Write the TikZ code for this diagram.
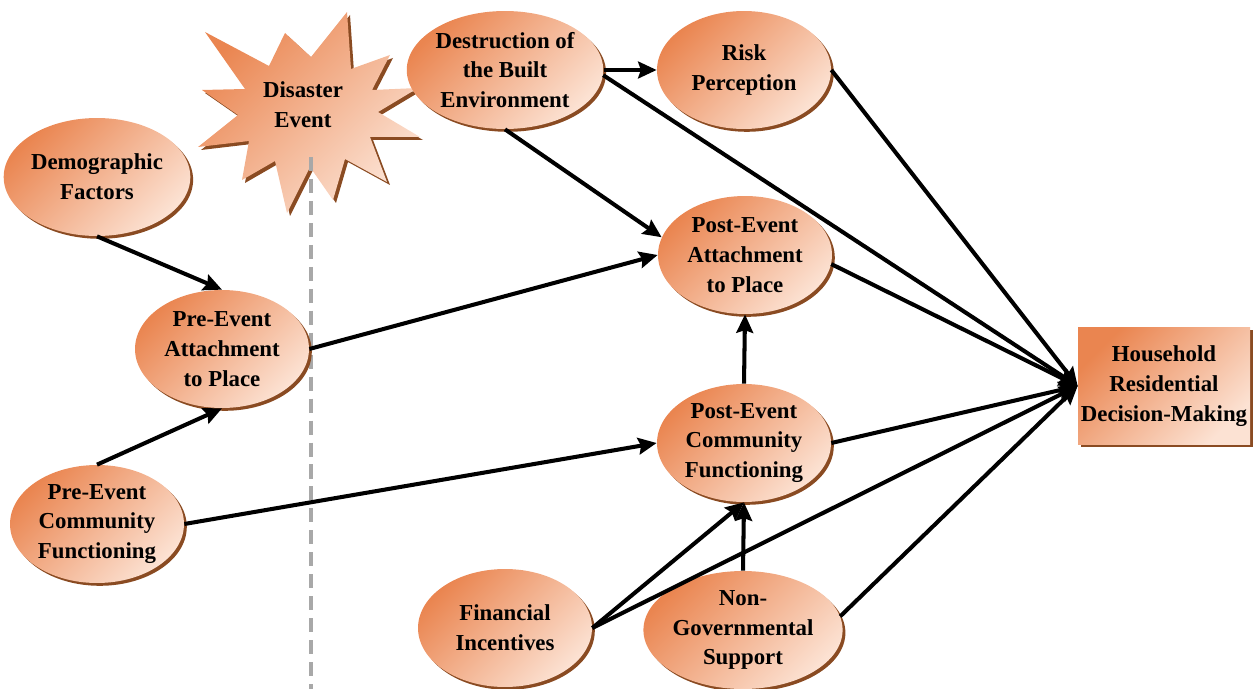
\documentclass[tikz,border=0pt]{standalone}
\usepackage{fontspec}
\setmainfont{Liberation Serif}
\usetikzlibrary{shapes.geometric,shadows,arrows.meta}
\definecolor{oA}{HTML}{EA8550}
\definecolor{oB}{HTML}{FCE2D3}
\definecolor{shc}{HTML}{8A4B22}
\definecolor{dashc}{HTML}{A8A8A8}
\begin{document}
\begin{tikzpicture}[x=0.02cm,y=-0.02cm,
  lbl/.style={align=center, font=\fontsize{13}{17}\selectfont\bfseries},
  orangeshade/.style={top color=oA, bottom color=oB, shading angle=45},
  shadowed/.style={drop shadow={shadow xshift=1.6pt, shadow yshift=-1.6pt, fill=shc, opacity=1}},
  blob/.style={ellipse, minimum width=3.48cm, minimum height=2.36cm, inner sep=0pt, orangeshade, shadowed, lbl},
  boxnode/.style={rectangle, minimum width=3.44cm, minimum height=2.34cm, inner sep=0pt, orangeshade, shadowed, lbl},
  arr/.style={line width=2.3pt, -{Stealth[length=10.5pt,width=9.5pt,inset=1.5pt]}}
]
\useasboundingbox (0,0) rectangle (1257,689);

% starburst
\fill[shc, shift={(3,3)}] (347,12) -- (351,69) -- (390,55) -- (372,90) -- (418,88) -- (378,112) -- (420,137) -- (370,137) -- (387,182) -- (345,159) -- (333,200) -- (310,167) -- (287,213) -- (275,161) -- (242,180) -- (249,141) -- (198,147) -- (238,115) -- (202,90) -- (245,89) -- (205,32) -- (269,66) -- (285,33) -- (311,57) -- cycle;
\shade[orangeshade] (347,12) -- (351,69) -- (390,55) -- (372,90) -- (418,88) -- (378,112) -- (420,137) -- (370,137) -- (387,182) -- (345,159) -- (333,200) -- (310,167) -- (287,213) -- (275,161) -- (242,180) -- (249,141) -- (198,147) -- (238,115) -- (202,90) -- (245,89) -- (205,32) -- (269,66) -- (285,33) -- (311,57) -- cycle;
\node[lbl] (disaster) at (303,105) {Disaster\\Event};

% dashed line
\coordinate (dtop) at (311,157);
\coordinate (dbot) at (311,689);
\draw[dashc, line width=2.3pt, dash pattern=on 8pt off 4.5pt] (dtop) -- (dbot);

% nodes
\node[blob] (demo) at (97,177) {Demographic\\Factors};
\node[blob] (preatt) at (222,349) {Pre-Event\\Attachment\\to Place};
\node[blob] (precomm) at (97,524) {Pre-Event\\Community\\Functioning};
\node[blob] (dest) at (505,70) {Destruction of\\the Built\\Environment};
\node[blob] (risk) at (744,70) {Risk\\Perception};
\node[blob] (postatt) at (745,255) {Post-Event\\Attachment\\to Place};
\node[blob] (postcomm) at (744,443) {Post-Event\\Community\\Functioning};
\node[blob] (fin) at (505,628) {Financial\\Incentives};
\node[blob] (ngs) at (743,630) {Non-\\Governmental\\Support};
\node[boxnode] (hh) at (1164,386) {Household\\Residential\\Decision-Making};

% connectors
\draw[arr] (demo.south) -- (preatt.north);
\draw[arr] (precomm.north) -- (preatt.south);
\draw[arr] (preatt.east) -- (postatt.west);
\draw[arr] (precomm.east) -- (postcomm.west);
\draw[arr] (dest.east) -- (risk.west);
\draw[arr] (dest.south) -- (postatt.168);
\draw[arr] (postcomm.north) -- (postatt.south);
\draw[arr] (fin.east) -- (postcomm.south);
\draw[arr] (ngs.north) -- (postcomm.south);
\draw[arr] (dest.-3) -- (hh.west);
\draw[arr] (risk.east) -- (hh.west);
\draw[arr] (postatt.-6) -- (hh.west);
\draw[arr] (postcomm.east) -- (hh.west);
\draw[arr] (fin.east) -- (hh.west);
\draw[arr] (ngs.8) -- (hh.west);
\end{tikzpicture}
\end{document}
